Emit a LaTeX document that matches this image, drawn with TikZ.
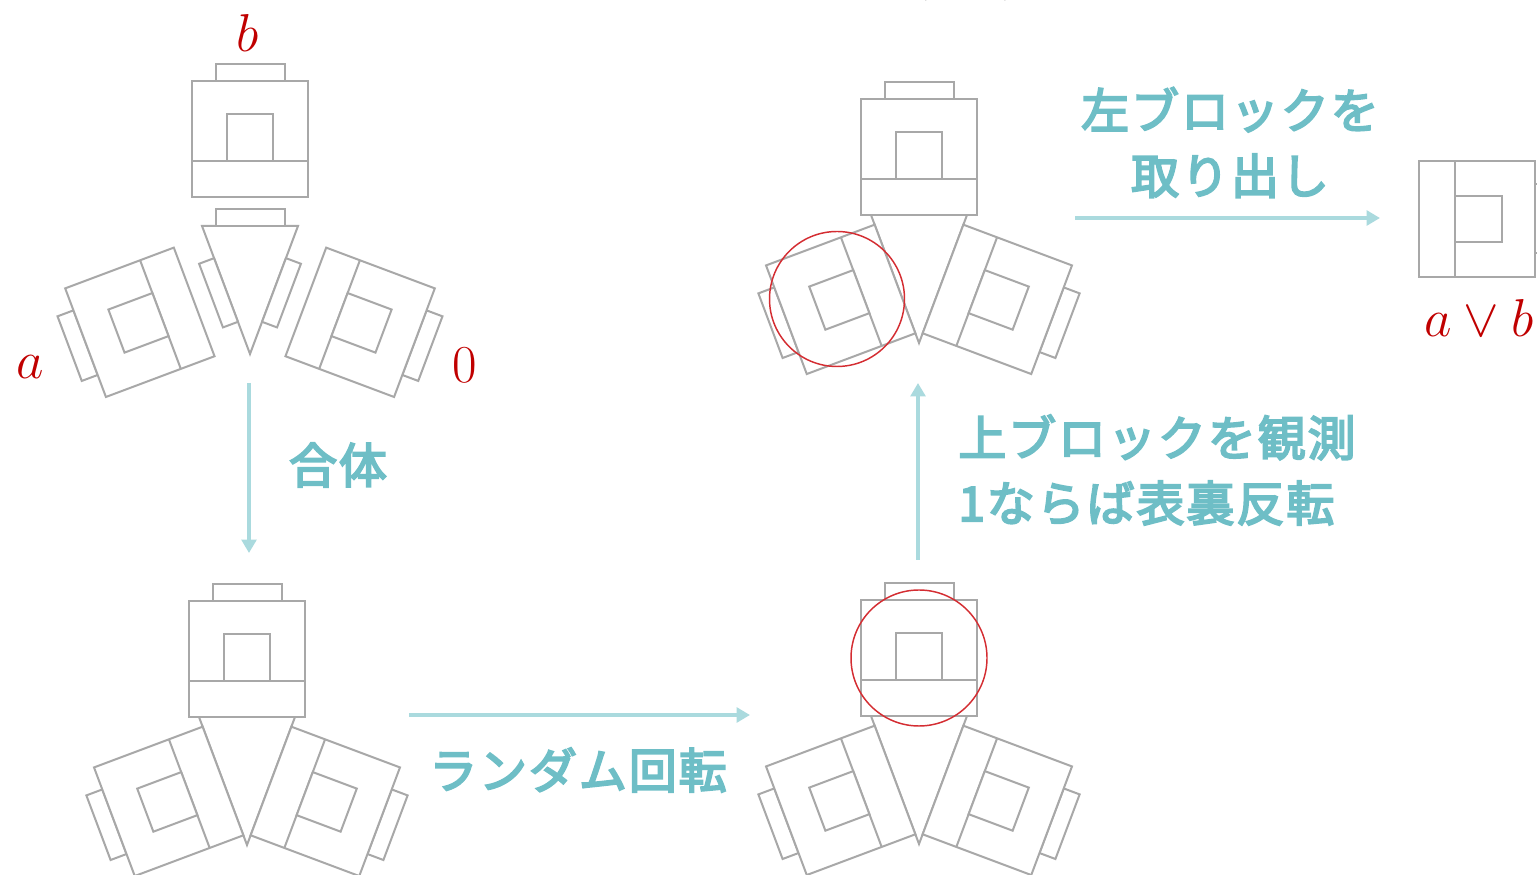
\RequirePackage{fix-cm}
\documentclass[tikz,border=0pt]{standalone}
\usepackage{fontspec}
\newfontfamily\jp{Noto Sans CJK JP}[FakeBold=4, LetterSpace=4]
\usetikzlibrary{arrows.meta}

\definecolor{blkgray}{RGB}{168,168,168}
\definecolor{tealtext}{RGB}{110,190,198}
\definecolor{tealarrow}{RGB}{170,218,222}
\definecolor{labelred}{RGB}{192,0,0}
\definecolor{ringred}{RGB}{212,45,50}

\tikzset{
  blkline/.style={draw=blkgray, line width=1.5pt, fill=white, line join=miter},
  flow/.style={draw=tealarrow, line width=3pt, -{Triangle[length=10pt,width=11pt]}},
  jplabel/.style={text=tealtext, font=\jp\fontsize{36}{49}\selectfont, inner sep=0pt},
  varlabel/.style={text=labelred, font=\fontsize{40}{44}\selectfont, inner sep=0pt},
  ring/.style={draw=ringred, line width=1.1pt},
  % one block: inner edge centred on the origin, body towards +y
  pics/blk/.style={code={
    \draw[blkline] (-34.5,116) rectangle (34.5,133);
    \draw[blkline] (-58,0) rectangle (58,116);
    \draw[blkline] (-58,36) -- (58,36);
    \draw[blkline] (-23,36) rectangle (23,83);
  }},
  % the wedge, apex on the origin
  pics/wedge/.style={code={
    \draw[blkline] (-48,128) -- (48,128) -- (0,0) -- cycle;
  }},
  % the three small tabs of a bare wedge
  pics/wedgetabs/.style={code={
    \draw[blkline] (-34.5,128) rectangle (34.5,145);
    \begin{scope}[shift={(-24,64)}, rotate=110.56]
      \draw[blkline] (-34,0) rectangle (34,16);
    \end{scope}
    \begin{scope}[shift={(24,64)}, rotate=-110.56]
      \draw[blkline] (-34,0) rectangle (34,16);
    \end{scope}
  }},
  % assembled device: three blocks flush on the wedge
  pics/device/.style={code={
    \pic {wedge};
    \pic[shift={(0,128)}] {blk};
    \pic[shift={(-24,64)}, rotate=110.56] {blk};
    \pic[shift={(24,64)}, rotate=-110.56] {blk};
  }}
}

\begin{document}
\begin{tikzpicture}[x=0.75pt, y=0.75pt]
\useasboundingbox (0,0) rectangle (1537,874);

% title line running off the top edge
\node[anchor=base, inner sep=0pt, font=\fontsize{40}{44}\selectfont] (ttlcomma) at (540,886) {$,$};
\node[anchor=base west, inner sep=0pt, font=\fontsize{40}{44}\selectfont] (ttlpair) at (910,886) {$(a,b)$};

% ---- separated parts
\begin{scope}[shift={(250,520)}]
  \pic {wedge};
  \pic {wedgetabs};
  \pic[shift={(0,157)}] {blk};
  \pic[shift={(-55.83,52.06)}, rotate=110.56] {blk};
  \pic[shift={(55.83,52.06)}, rotate=-110.56] {blk};
\end{scope}
\node[varlabel] (lb) at (248,841) {$b$};
\node[varlabel] (la) at (30,507) {$a$};
\node[varlabel] (l0) at (465,509) {$0$};

% ---- assembled
\pic at (247,29) {device};

% ---- after rotation, top block marked
\pic at (919,30) {device};
\draw[ring] (919,216) circle[radius=68];

% ---- after measurement, left block marked
\pic at (919,531) {device};
\draw[ring] (837,575) circle[radius=67.5];

% ---- extracted block
\pic[shift={(1419,655)}, rotate=-90] {blk};
\node[varlabel] (lor) at (1479,556) {$a\vee b$};

% ---- steps
\coordinate (s1a) at (249,491);
\coordinate (s1b) at (249,321);
\draw[flow] (s1a) -- (s1b);
\node[jplabel] (t1) at (338,409) {合体};

\coordinate (s2a) at (409,159);
\coordinate (s2b) at (750,159);
\draw[flow] (s2a) -- (s2b);
\node[jplabel] (t2) at (578,104) {ランダム回転};

\coordinate (s3a) at (918,314);
\coordinate (s3b) at (918,491);
\draw[flow] (s3a) -- (s3b);
\node[jplabel, anchor=west, align=left] (t3) at (958,404) {上ブロックを観測\\1ならば表裏反転};

\coordinate (s4a) at (1075,656);
\coordinate (s4b) at (1380,656);
\draw[flow] (s4a) -- (s4b);
\node[jplabel, align=center] (t4) at (1230,731.5) {左ブロックを\\取り出し};
\end{tikzpicture}
\end{document}
